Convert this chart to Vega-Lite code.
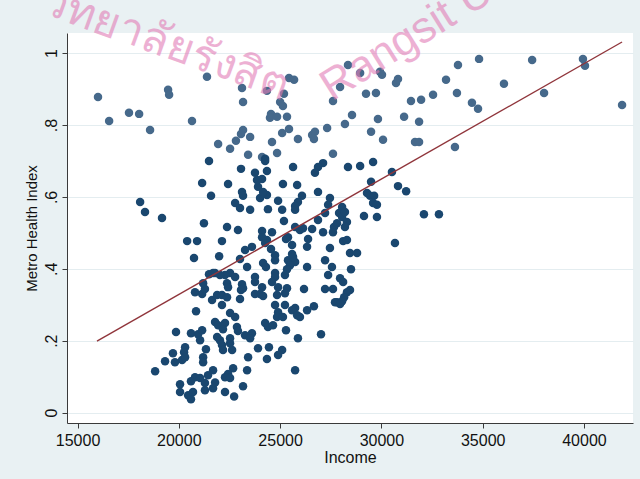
{
  "$schema": "https://vega.github.io/schema/vega-lite/v6.json",
  "width": 566,
  "height": 390,
  "autosize": {"type": "none"},
  "padding": {"left": 67, "top": 33, "right": 7, "bottom": 56},
  "background": "#e9f1f3",
  "config": {
    "view": {"fill": "white", "stroke": null},
    "font": "Liberation Sans",
    "axis": {
      "domainColor": "#3a3a3a",
      "tickColor": "#3a3a3a",
      "tickSize": 5,
      "labelColor": "#111111",
      "titleColor": "#111111",
      "labelFont": "Liberation Sans",
      "titleFont": "Liberation Sans",
      "titleFontWeight": "normal"
    }
  },
  "layer": [
    {
      "data": {"values": [
        {"income":16010,"health":0.878},{"income":16560,"health":0.811},{"income":17540,"health":0.834},{"income":18040,"health":0.831},
        {"income":18580,"health":0.786},{"income":19470,"health":0.898},{"income":19520,"health":0.884},{"income":20650,"health":0.811},
        {"income":21390,"health":0.934},{"income":23120,"health":0.903},{"income":23170,"health":0.864},{"income":24350,"health":0.895},
        {"income":25190,"health":0.887},{"income":25000,"health":0.864},{"income":25140,"health":0.853},{"income":25440,"health":0.931},
        {"income":25690,"health":0.926},{"income":24550,"health":0.831},{"income":24500,"health":0.820},{"income":24850,"health":0.823},
        {"income":25340,"health":0.823},{"income":23170,"health":0.786},{"income":23070,"health":0.775},{"income":23520,"health":0.767},
        {"income":22820,"health":0.756},{"income":21940,"health":0.747},{"income":22530,"health":0.734},{"income":24600,"health":0.753},
        {"income":25100,"health":0.778},{"income":25440,"health":0.789},{"income":25880,"health":0.761},{"income":26580,"health":0.772},
        {"income":26720,"health":0.781},{"income":26670,"health":0.761},{"income":27320,"health":0.792},{"income":27960,"health":0.906},
        {"income":27610,"health":0.867},{"income":23420,"health":0.717},{"income":24110,"health":0.711},{"income":24260,"health":0.706},
        {"income":24850,"health":0.722},{"income":27610,"health":0.720},{"income":28350,"health":0.967},{"income":28950,"health":0.945},
        {"income":29930,"health":0.948},{"income":30030,"health":0.940},{"income":30720,"health":0.917},{"income":30820,"health":0.928},
        {"income":33780,"health":0.967},{"income":34820,"health":0.984},{"income":37440,"health":0.981},{"income":39950,"health":0.984},
        {"income":40050,"health":0.965},{"income":33190,"health":0.926},{"income":36050,"health":0.915},{"income":29240,"health":0.887},
        {"income":29730,"health":0.889},{"income":33730,"health":0.889},{"income":38030,"health":0.889},{"income":31460,"health":0.867},
        {"income":31960,"health":0.870},{"income":32550,"health":0.884},{"income":34470,"health":0.862},{"income":34770,"health":0.845},
        {"income":41880,"health":0.856},{"income":28550,"health":0.828},{"income":28200,"health":0.803},{"income":29830,"health":0.817},
        {"income":31120,"health":0.823},{"income":31860,"health":0.809},{"income":29490,"health":0.781},{"income":30080,"health":0.759},
        {"income":31660,"health":0.753},{"income":31860,"health":0.753},{"income":33630,"health":0.739},
        {"income":21490,"health":0.700},{"income":21150,"health":0.639},{"income":21590,"health":0.603},{"income":18090,"health":0.586},
        {"income":18330,"health":0.558},{"income":19170,"health":0.541},{"income":21240,"health":0.527},{"income":20410,"health":0.477},
        {"income":20900,"health":0.477},{"income":20750,"health":0.430},{"income":21490,"health":0.385},{"income":21690,"health":0.388},
        {"income":24260,"health":0.700},{"income":23070,"health":0.678},{"income":25640,"health":0.683},{"income":27120,"health":0.694},
        {"income":26870,"health":0.683},{"income":26720,"health":0.667},{"income":24350,"health":0.672},{"income":22430,"health":0.636},
        {"income":24110,"health":0.650},{"income":23910,"health":0.628},{"income":25140,"health":0.636},{"income":25840,"health":0.633},
        {"income":23120,"health":0.614},{"income":23170,"health":0.603},{"income":24350,"health":0.605},{"income":24010,"health":0.597},
        {"income":23760,"health":0.667},{"income":26870,"health":0.614},{"income":22780,"health":0.583},{"income":24900,"health":0.589},
        {"income":26080,"health":0.603},{"income":25880,"health":0.586},{"income":25740,"health":0.575},{"income":27460,"health":0.597},
        {"income":27370,"health":0.578},{"income":23020,"health":0.569},{"income":23520,"health":0.564},{"income":24400,"health":0.566},
        {"income":25100,"health":0.564},{"income":25740,"health":0.564},{"income":27220,"health":0.555},{"income":28060,"health":0.572},
        {"income":27910,"health":0.555},{"income":28060,"health":0.544},{"income":25190,"health":0.533},{"income":22380,"health":0.516},
        {"income":22920,"health":0.508},{"income":24110,"health":0.505},{"income":24600,"health":0.502},{"income":25740,"health":0.516},
        {"income":25980,"health":0.508},{"income":26130,"health":0.513},{"income":26580,"health":0.511},{"income":27120,"health":0.502},
        {"income":27660,"health":0.516},{"income":27810,"health":0.527},{"income":27610,"health":0.502},{"income":28110,"health":0.477},
        {"income":22130,"health":0.477},{"income":24350,"health":0.480},{"income":24260,"health":0.472},{"income":25390,"health":0.488},
        {"income":25290,"health":0.483},{"income":26380,"health":0.483},{"income":25590,"health":0.466},{"income":26330,"health":0.461},
        {"income":23610,"health":0.461},{"income":23270,"health":0.452},{"income":24550,"health":0.455},{"income":27460,"health":0.458},
        {"income":21990,"health":0.435},{"income":23020,"health":0.427},{"income":24750,"health":0.438},{"income":24750,"health":0.424},
        {"income":25590,"health":0.441},{"income":25390,"health":0.424},{"income":27220,"health":0.424},{"income":24160,"health":0.416},
        {"income":24300,"health":0.405},{"income":25740,"health":0.419},{"income":25490,"health":0.410},{"income":25340,"health":0.399},
        {"income":23370,"health":0.405},{"income":27560,"health":0.405},{"income":22530,"health":0.388},{"income":22280,"health":0.383},
        {"income":22030,"health":0.383},{"income":22780,"health":0.377},{"income":23760,"health":0.377},{"income":24750,"health":0.388},
        {"income":24750,"health":0.377},{"income":25240,"health":0.383},{"income":27370,"health":0.383},{"income":21790,"health":0.388},
        {"income":28350,"health":0.683},{"income":28950,"health":0.686},{"income":29590,"health":0.697},{"income":30520,"health":0.669},
        {"income":29490,"health":0.642},{"income":30820,"health":0.630},{"income":31220,"health":0.616},{"income":29290,"health":0.611},
        {"income":29440,"health":0.603},{"income":29640,"health":0.603},{"income":29590,"health":0.583},{"income":29780,"health":0.578},
        {"income":28200,"health":0.558},{"income":28300,"health":0.530},{"income":28200,"health":0.516},{"income":29140,"health":0.547},
        {"income":29780,"health":0.544},{"income":32100,"health":0.552},{"income":32840,"health":0.552},{"income":28300,"health":0.480},
        {"income":30670,"health":0.472},{"income":28450,"health":0.444},{"income":28800,"health":0.444},{"income":28500,"health":0.399},
        {"income":27960,"health":0.374},{"income":28110,"health":0.363},{"income":24160,"health":0.614},{"income":23860,"health":0.647},
        {"income":24110,"health":0.488},{"income":26870,"health":0.536},{"income":25640,"health":0.433},{"income":26330,"health":0.405},
        {"income":20800,"health":0.335},{"income":21150,"health":0.330},{"income":21290,"health":0.344},{"income":21200,"health":0.360},
        {"income":21640,"health":0.313},{"income":20850,"health":0.282},{"income":21790,"health":0.252},{"income":19860,"health":0.224},
        {"income":20600,"health":0.221},{"income":20950,"health":0.218},{"income":21150,"health":0.229},{"income":21050,"health":0.201},
        {"income":20310,"health":0.182},{"income":20260,"health":0.168},{"income":19710,"health":0.165},{"income":19810,"health":0.140},
        {"income":19320,"health":0.143},{"income":20160,"health":0.146},{"income":20310,"health":0.154},{"income":21200,"health":0.154},
        {"income":21200,"health":0.140},{"income":21340,"health":0.176},{"income":21440,"health":0.104},{"income":21690,"health":0.118},
        {"income":18830,"health":0.115},{"income":20800,"health":0.098},{"income":20600,"health":0.087},{"income":20060,"health":0.079},
        {"income":20060,"health":0.057},{"income":20460,"health":0.048},{"income":20700,"health":0.057},{"income":21290,"health":0.082},
        {"income":21290,"health":0.062},{"income":21690,"health":0.068},{"income":20600,"health":0.037},{"income":21050,"health":0.096},
        {"income":22380,"health":0.360},{"income":22430,"health":0.349},{"income":23120,"health":0.357},{"income":23170,"health":0.346},
        {"income":23070,"health":0.341},{"income":23760,"health":0.363},{"income":24110,"health":0.349},{"income":24010,"health":0.330},
        {"income":24160,"health":0.324},{"income":23760,"health":0.330},{"income":24600,"health":0.363},{"income":24900,"health":0.349},
        {"income":24850,"health":0.327},{"income":25340,"health":0.346},{"income":25240,"health":0.332},{"income":26180,"health":0.344},
        {"income":27220,"health":0.344},{"income":27610,"health":0.344},{"income":21890,"health":0.327},{"income":22130,"health":0.327},
        {"income":22380,"health":0.321},{"income":23020,"health":0.316},{"income":22130,"health":0.299},{"income":27810,"health":0.307},
        {"income":24750,"health":0.299},{"income":25240,"health":0.299},{"income":25740,"health":0.291},{"income":25590,"health":0.285},
        {"income":26330,"health":0.285},{"income":26670,"health":0.296},{"income":24900,"health":0.279},{"income":24850,"health":0.266},
        {"income":25140,"health":0.266},{"income":25840,"health":0.271},{"income":25980,"health":0.266},{"income":22530,"health":0.277},
        {"income":22780,"health":0.266},{"income":24260,"health":0.249},{"income":24400,"health":0.238},{"income":24650,"health":0.243},
        {"income":21940,"health":0.243},{"income":22280,"health":0.249},{"income":22180,"health":0.232},{"income":22870,"health":0.238},
        {"income":22920,"health":0.227},{"income":25290,"health":0.229},{"income":27020,"health":0.218},{"income":23270,"health":0.215},
        {"income":23610,"health":0.221},{"income":23520,"health":0.207},{"income":25880,"health":0.207},{"income":22030,"health":0.201},
        {"income":22130,"health":0.188},{"income":22180,"health":0.174},{"income":22530,"health":0.207},{"income":22530,"health":0.193},
        {"income":22630,"health":0.174},{"income":21890,"health":0.210},{"income":23910,"health":0.179},{"income":24450,"health":0.182},
        {"income":25100,"health":0.174},{"income":24900,"health":0.160},{"income":24350,"health":0.149},{"income":23420,"health":0.154},
        {"income":25740,"health":0.118},{"income":22680,"health":0.123},{"income":22430,"health":0.107},{"income":22280,"health":0.098},
        {"income":22530,"health":0.096},{"income":23370,"health":0.118},{"income":21790,"health":0.084},{"income":23170,"health":0.073},
        {"income":22280,"health":0.057},{"income":22730,"health":0.045},{"income":28450,"health":0.341},{"income":28300,"health":0.335},
        {"income":28160,"health":0.321},{"income":28060,"health":0.310},{"income":27710,"health":0.307},{"income":27960,"health":0.302}
      ]},
      "mark": {"type": "circle", "size": 72, "opacity": 1},
      "encoding": {
        "x": {
          "field": "income", "type": "quantitative", "title": "Income",
          "scale": {"domain": [14480, 42420], "nice": false, "zero": false},
          "axis": {
            "values": [15000, 20000, 25000, 30000, 35000, 40000],
            "format": "d",
            "grid": false,
            "labelFontSize": 16,
            "labelPadding": 4,
            "titleFontSize": 16,
            "titlePadding": 1
          }
        },
        "y": {
          "field": "health", "type": "quantitative", "title": "Metro Health Index",
          "scale": {"domain": [-0.029, 1.056], "nice": false, "zero": false},
          "axis": {
            "values": [0, 0.2, 0.4, 0.6, 0.8, 1],
            "labelExpr": "datum.value == 0 ? '0' : datum.value == 1 ? '1' : '.' + format(datum.value * 10, '.0f')",
            "labelAngle": -90,
            "labelFontSize": 16,
            "labelPadding": 3,
            "titleFontSize": 15,
            "titlePadding": 4,
            "grid": true,
            "gridColor": "#e4edf0",
            "gridWidth": 1.2
          }
        },
        "color": {
          "condition": {"test": "datum.health > 0.708", "value": "#46698b"},
          "value": "#1a476f"
        }
      }
    },
    {
      "data": {"values": [
        {"income": 15960, "fit": 0.199},
        {"income": 41880, "fit": 1.031}
      ]},
      "mark": {"type": "line", "color": "#90353b", "strokeWidth": 1.4},
      "encoding": {
        "x": {"field": "income", "type": "quantitative"},
        "y": {"field": "fit", "type": "quantitative"}
      }
    },
    {
      "data": {"values": [{"label": "วิทยาลัยรังสิต"}]},
      "mark": {"type": "text", "angle": 20, "fontSize": 44, "font": "DejaVu Sans", "color": "#e27db6", "opacity": 0.6, "align": "center", "baseline": "middle"},
      "encoding": {
        "text": {"field": "label"},
        "x": {"datum": 19350},
        "y": {"datum": 1.025}
      }
    },
    {
      "data": {"values": [{"label": "Rangsit U"}]},
      "mark": {"type": "text", "angle": -32, "fontSize": 44, "color": "#e27db6", "opacity": 0.6, "align": "left", "baseline": "alphabetic"},
      "encoding": {
        "text": {"field": "label"},
        "x": {"datum": 27550},
        "y": {"datum": 0.865}
      }
    }
  ]
}
